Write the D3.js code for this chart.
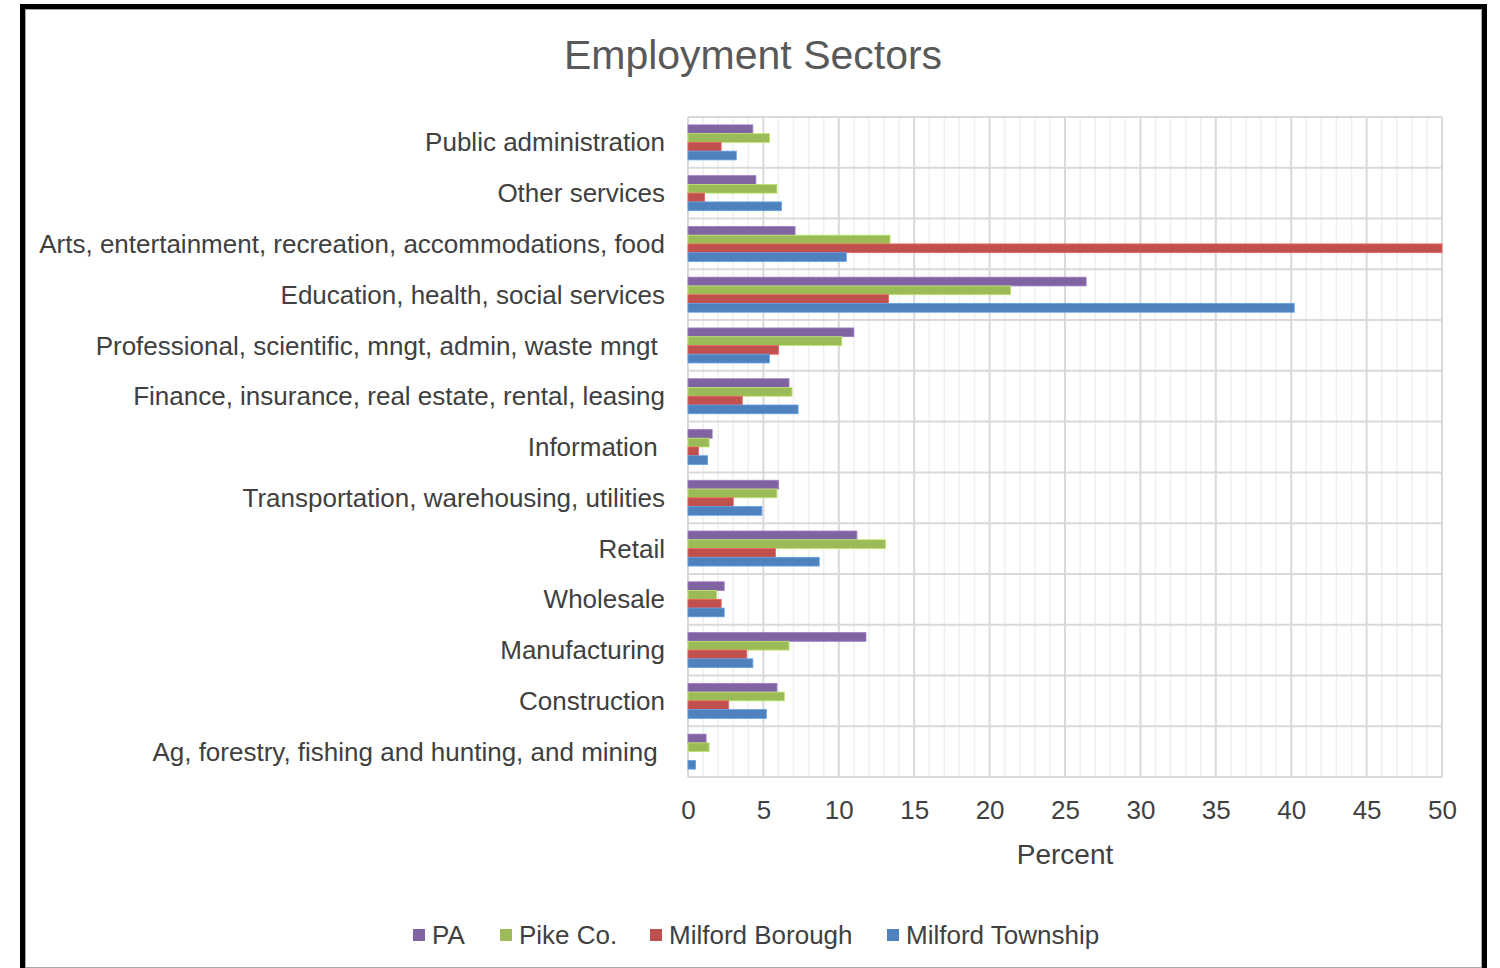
<!DOCTYPE html>
<html>
<head>
<meta charset="utf-8">
<script src="https://cdn.jsdelivr.net/npm/d3@7"></script>
<style>
    body { margin: 0; background: #fff; }
    svg text { font-family: "Liberation Sans", Arial, sans-serif; }
</style>
</head>
<body>
<svg id="chart" width="1500" height="968"></svg>
<script>
const categories = [
    "Public administration",
    "Other services",
    "Arts, entertainment, recreation, accommodations, food",
    "Education, health, social services",
    "Professional, scientific, mngt, admin, waste mngt ",
    "Finance, insurance, real estate, rental, leasing",
    "Information ",
    "Transportation, warehousing, utilities",
    "Retail",
    "Wholesale",
    "Manufacturing",
    "Construction",
    "Ag, forestry, fishing and hunting, and mining "
];
const seriesNames = ["PA", "Pike Co.", "Milford Borough", "Milford Township"];
const seriesColors = ["#8064A2", "#9BBB59", "#C0504D", "#4F81BD"];

const valuesPA = [4.3, 4.5, 7.1, 26.4, 11.0, 6.7, 1.6, 6.0, 11.2, 2.4, 11.8, 5.9, 1.2];
const valuesPike = [5.4, 5.9, 13.4, 21.4, 10.2, 6.9, 1.4, 5.9, 13.1, 1.9, 6.7, 6.4, 1.4];
const valuesBorough = [2.2, 1.1, 50.0, 13.3, 6.0, 3.6, 0.7, 3.0, 5.8, 2.2, 3.9, 2.7, 0.0];
const valuesTownship = [3.2, 6.2, 10.5, 40.2, 5.4, 7.3, 1.3, 4.9, 8.7, 2.4, 4.3, 5.2, 0.5];
const xTicks = [0, 5, 10, 15, 20, 25, 30, 35, 40, 45, 50];

const allSeries = [valuesPA, valuesPike, valuesBorough, valuesTownship];

const svg = d3.select("#chart");

// Frame
svg.append("rect")
    .attr("x", 22.5).attr("y", 6.5)
    .attr("width", 1462).attr("height", 972)
    .attr("fill", "#fff").attr("stroke", "#000").attr("stroke-width", 5);
svg.append("rect")
    .attr("x", 25.5).attr("y", 9.5)
    .attr("width", 1456).attr("height", 958)
    .attr("fill", "none").attr("stroke", "#a6a6a6").attr("stroke-width", 1);

const plot = {left: 688, right: 1442, top: 117, bottom: 777};

const x = d3.scaleLinear().domain([0, 50]).range([plot.left, plot.right]);
const y = d3.scaleBand().domain(categories)
    .range([plot.top, plot.bottom])
    .paddingInner(0.31).paddingOuter(0.155);
const ySub = d3.scaleBand().domain(d3.range(seriesNames.length))
    .range([0, y.bandwidth()]);
const yEdge = d3.scaleLinear().domain([0, categories.length]).range([plot.top, plot.bottom]);

// Gridlines
const grid = svg.append("g");
grid.selectAll("line.minor")
    .data(d3.range(0, 51).filter(v => v % 5 !== 0))
    .enter().append("line")
    .attr("x1", d => x(d)).attr("x2", d => x(d))
    .attr("y1", plot.top).attr("y2", plot.bottom)
    .attr("stroke", "#efefef").attr("stroke-width", 1.5);
grid.selectAll("line.major")
    .data(xTicks)
    .enter().append("line")
    .attr("x1", d => x(d)).attr("x2", d => x(d))
    .attr("y1", plot.top).attr("y2", plot.bottom)
    .attr("stroke", "#d9d9d9").attr("stroke-width", 2);
grid.selectAll("line.h")
    .data(d3.range(0, categories.length + 1))
    .enter().append("line")
    .attr("x1", plot.left).attr("x2", plot.right)
    .attr("y1", d => yEdge(d)).attr("y2", d => yEdge(d))
    .attr("stroke", "#d9d9d9").attr("stroke-width", 2);

// Bars
allSeries.forEach((vals, s) => {
    svg.append("g").selectAll("rect")
        .data(vals)
        .enter().append("rect")
        .attr("x", x(0))
        .attr("y", (d, i) => y(categories[i]) + ySub(s))
        .attr("width", d => x(Math.min(d, 50)) - x(0))
        .attr("height", ySub.bandwidth())
        .attr("fill", seriesColors[s])
        .attr("stroke", d3.color(seriesColors[s]).brighter(0.6))
        .attr("stroke-width", 0.8);
});

// Category labels
svg.append("g").selectAll("text")
    .data(categories)
    .enter().append("text")
    .attr("x", 665)
    .attr("y", d => y(d) + y.bandwidth() / 2)
    .attr("dy", "0.35em")
    .attr("text-anchor", "end")
    .style("white-space", "pre")
    .attr("font-size", 26)
    .attr("fill", "#404040")
    .text(d => d);

// X axis
const xAxis = svg.append("g")
    .attr("transform", `translate(0,${plot.bottom})`)
    .call(d3.axisBottom(x).tickValues(xTicks).tickSize(0).tickPadding(24));
xAxis.select(".domain").remove();
xAxis.selectAll("text")
    .attr("font-size", 26)
    .attr("fill", "#404040")
    .style("font-family", "'Liberation Sans', Arial, sans-serif");

svg.append("text")
    .attr("x", (plot.left + plot.right) / 2)
    .attr("y", 864)
    .attr("text-anchor", "middle")
    .attr("font-size", 28)
    .attr("fill", "#404040")
    .text("Percent");

// Title
svg.append("text")
    .attr("x", 753)
    .attr("y", 69)
    .attr("text-anchor", "middle")
    .attr("font-size", 41)
    .attr("fill", "#595959")
    .text("Employment Sectors");

// Legend
const legendX = [413, 500, 650, 887];
const legend = svg.append("g");
seriesNames.forEach((name, i) => {
    const g = legend.append("g").attr("transform", `translate(${legendX[i]},935)`);
    g.append("rect").attr("x", 0).attr("y", -6).attr("width", 12).attr("height", 12)
        .attr("fill", seriesColors[i]);
    g.append("text").attr("x", 19).attr("y", 0).attr("dy", "0.36em")
        .attr("font-size", 26).attr("fill", "#404040").text(name);
});
</script>
</body>
</html>
